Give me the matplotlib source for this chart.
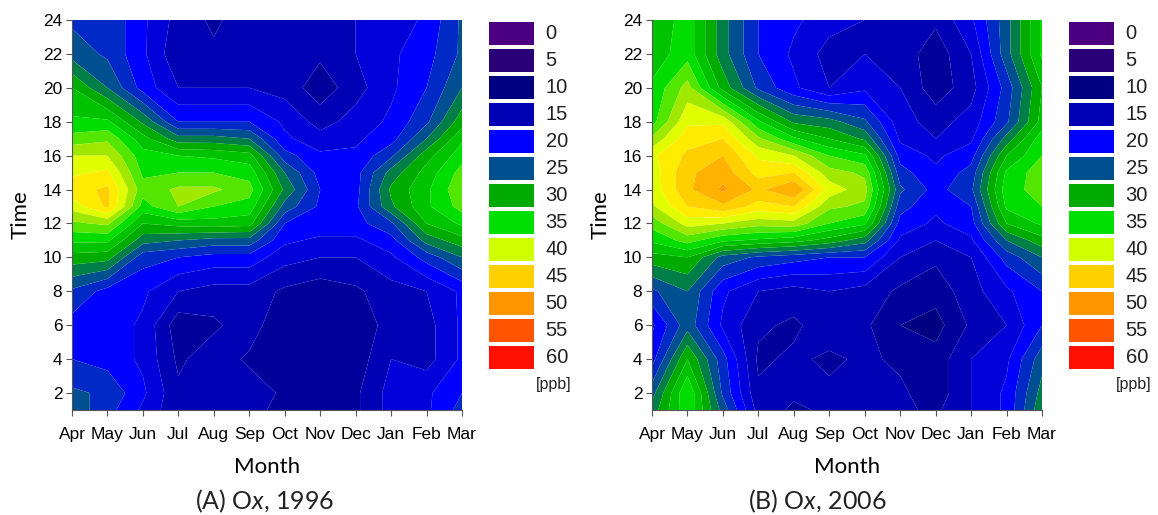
import matplotlib
matplotlib.use("Agg")
import matplotlib.pyplot as plt
import numpy as np
from matplotlib.colors import LinearSegmentedColormap, to_rgb

months = ["Apr", "May", "Jun", "Jul", "Aug", "Sep", "Oct", "Nov", "Dec", "Jan", "Feb", "Mar"]
hours = [1, 2, 4, 6, 8, 10, 11, 12, 13, 14, 15, 16, 17, 18, 20, 22, 24]
time_ticks = [2, 4, 6, 8, 10, 12, 14, 16, 18, 20, 22, 24]

# rows follow hours, columns follow months
ox_1996 = [
    [24, 21, 17, 13, 13, 13, 12, 12, 12, 16, 17, 21],
    [23, 22, 18, 13, 14, 14, 12, 12, 12, 16, 17, 20],
    [20, 19, 17, 12, 14, 12, 11, 11, 11, 15, 14, 18],
    [19, 19, 17, 11, 12, 14, 10, 10, 10, 14, 14, 18],
    [22, 19, 18, 15, 14, 14, 12, 11, 12, 14, 15, 18],
    [29, 28.5, 21, 20, 19, 19, 16, 15, 15, 17, 21, 25],
    [33, 33, 26, 25, 24, 24, 18, 17, 17, 19, 26, 29],
    [37, 38, 30, 31, 31.5, 31, 20, 19, 19, 22, 30, 33],
    [41, 45.5, 34, 37.5, 35, 34, 24, 19.5, 19.5, 27, 32, 36],
    [44, 45.5, 36, 38, 38, 36, 27, 20, 19, 28, 32, 37],
    [42, 43, 34.5, 35, 35, 34, 25, 19, 19, 26, 31, 36],
    [40, 40, 33.5, 32.5, 32, 31, 21, 18, 18, 22, 29, 34],
    [36, 37, 31, 26, 26, 25, 18, 16, 17, 19, 25, 32],
    [33, 33, 27, 20, 20, 20, 17, 14, 16, 18, 22, 29],
    [30, 25, 19, 15, 15, 15, 14, 11, 14, 17, 20, 25],
    [24, 22, 18, 13, 13, 14, 14, 13, 15, 17, 19, 23],
    [22, 22, 18, 14, 12, 14, 15, 15, 15, 16, 18, 23],
]
ox_2006 = [
    [26, 34.5, 24, 14, 12, 13, 13, 13, 12, 15, 18, 27],
    [24, 35, 22, 13, 13, 13, 13, 13, 11, 15, 18, 26],
    [19, 30, 21, 12, 13, 12, 13, 12, 11, 15, 17, 24],
    [17, 24, 17, 13, 12, 14, 13, 10, 9, 13, 15, 20],
    [22, 25, 18, 15, 14, 15, 14, 12, 11, 14, 17, 20],
    [29, 30, 24, 22, 21, 20, 20, 15, 13, 15, 21, 25],
    [33, 36, 33, 32, 31, 29, 26, 17, 15, 17, 25, 29],
    [36, 41, 40, 38.5, 39, 35, 33, 19, 17, 19, 30, 33],
    [39.5, 45, 47, 44, 45, 38, 37, 21, 18, 20, 33, 35],
    [41, 47, 50.5, 47, 50, 41.5, 38.5, 23, 19, 22, 34, 36],
    [41, 47, 49, 44, 45, 38.5, 37, 21, 18, 21, 33, 36.5],
    [42, 45.5, 47.5, 42, 40, 35, 33, 19, 17, 19, 30, 35],
    [38, 44, 45, 38, 33, 30, 27, 17, 15, 17, 26, 34],
    [34, 42, 42, 33, 27, 26, 23, 16, 14, 16, 22, 31],
    [33, 38.5, 29, 22, 18, 15, 17, 15, 11, 14, 21, 30],
    [31, 34, 26, 20, 17, 14, 15, 14, 11, 15, 24, 33],
    [30, 34, 26, 20, 18, 16, 15, 14, 13, 17, 24, 33],
]

legend_values = [0, 5, 10, 15, 20, 25, 30, 35, 40, 45, 50, 55, 60]
legend_colors = ["#4b0082", "#2a0078", "#000080", "#0000b4", "#0000ff", "#005090", "#00aa00",
                 "#00e000", "#d0ff00", "#ffd000", "#ff9500", "#ff5500", "#ff1000"]

# upper edge of a contour band and the colour it shows, as seen in the maps
band_edges = [0, 5, 10, 15, 20, 25, 30, 35, 37.5, 40, 42.5, 45, 47.5, 50, 52.5, 55, 60]
band_anchor = ["#4b0082", "#2a0078", "#000080", "#0000b4", "#0000ff", "#005090", "#00aa00",
               "#00dd00", "#4de600", "#a0e800", "#e0ff00", "#ffee00", "#ffd000", "#ffb400",
               "#ffa000", "#ff5500", "#ff1000"]

W, H = 1158, 515
fig = plt.figure(figsize=(W / 100, H / 100), dpi=100)
plt.rcParams["font.family"] = ["Liberation Sans", "DejaVu Sans"]
plt.rcParams["mathtext.fontset"] = "custom"
plt.rcParams["mathtext.it"] = "Lato:italic"
plt.rcParams["mathtext.rm"] = "Lato"

cmap = LinearSegmentedColormap.from_list(
    "ox", [(v / 60, to_rgb(c)) for v, c in zip(band_edges, band_anchor)])
levels = np.arange(0, 62.5, 2.5)
band_colors = [cmap(v / 60) for v in levels[1:]]


def px_axes(x0, y0, x1, y1):
    return fig.add_axes([x0 / W, 1 - y1 / H, (x1 - x0) / W, (y1 - y0) / H])


def panel(x0, values, caption, caption_x):
    ax = px_axes(x0, 20, x0 + 390, 410)
    ax.contourf(np.arange(len(months)), hours, np.array(values), levels=levels,
                colors=band_colors, antialiased=True)
    ax.set_xticks(np.arange(len(months)))
    ax.set_xticklabels(months, fontsize=12.5)
    ax.set_yticks(time_ticks)
    ax.tick_params(axis="y", labelsize=12.5, length=4, width=0.8, color="#555555", pad=3)
    ax.tick_params(axis="x", length=4, width=0.8, color="#555555", pad=8)
    ax.set_ylim(1, 24)
    for s in ax.spines.values():
        s.set_visible(False)
    ax.spines["left"].set_visible(True)
    ax.spines["bottom"].set_visible(True)
    ax.spines["left"].set_color("#555555")
    ax.spines["bottom"].set_color("#555555")
    ax.set_ylabel("Time", fontsize=16, family=["Lato"], labelpad=9)
    ax.set_xlabel("Month", fontsize=16, family=["Lato"], labelpad=11)
    fig.text(caption_x / W, 1 - 501 / H, caption, fontsize=18, family=["Lato"],
             ha="center", va="center", color="#222222")

    # colour key
    lg = px_axes(x0 + 417, 20, x0 + 462, 371)
    lg.barh(np.arange(len(legend_values)), 1, height=0.83, color=legend_colors)
    lg.set_ylim(len(legend_values) - 0.5, -0.5)
    lg.set_xlim(0, 1)
    lg.axis("off")
    for i, v in enumerate(legend_values):
        lg.text(1.26, i, str(v), fontsize=14.5, va="center", ha="left", color="#222222")
    lg.text(1.84, 13.0, "[ppb]", fontsize=11.5, va="center", ha="right", color="#222222",
            clip_on=False)


panel(72, ox_1996, r"(A) O$\mathit{x}$, 1996", 265)
panel(652, ox_2006, r"(B) O$\mathit{x}$, 2006", 817)

plt.savefig("out.png", dpi=100)
